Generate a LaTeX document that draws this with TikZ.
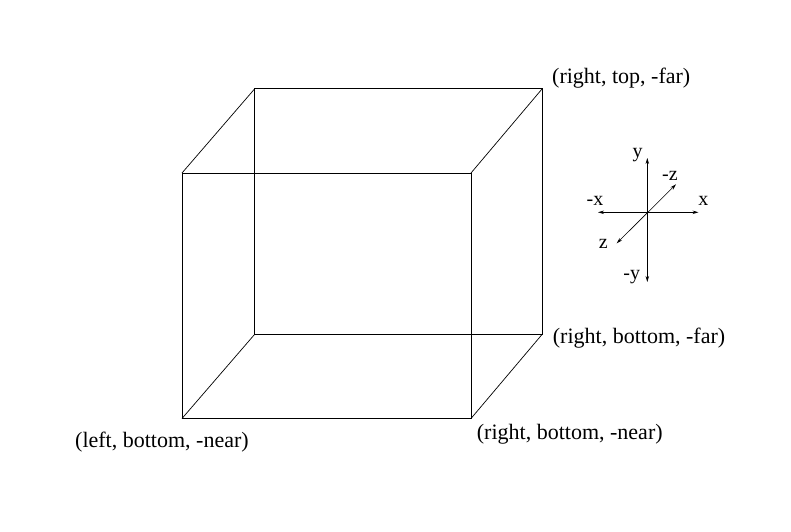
\documentclass[tikz,border=0pt]{standalone}
\usepackage{fontspec}
\setmainfont{Liberation Serif}
\usetikzlibrary{arrows.meta}
\begin{document}
\begin{tikzpicture}[x=1pt,y=1pt,
  edge/.style={line width=1pt},
  diag/.style={line width=0.7pt},
  axis/.style={line width=0.8pt,{Stealth[length=6pt,width=3.5pt]}-{Stealth[length=6pt,width=3.5pt]}},
  zaxis/.style={line width=0.6pt,{Stealth[length=6pt,width=3.5pt]}-{Stealth[length=6pt,width=3.5pt]}},
  big/.style={inner sep=0pt,font=\fontsize{22}{26}\selectfont},
  small/.style={inner sep=0pt,anchor=base,font=\fontsize{20}{24}\selectfont}]
\useasboundingbox (0,0) rectangle (791,531);
% cube corners
\coordinate (A) at (182,358);
\coordinate (B) at (471,358);
\coordinate (C) at (471,112.5);
\coordinate (D) at (182,112.5);
\coordinate (E) at (254.5,442);
\coordinate (F) at (542,442);
\coordinate (G) at (542,196.5);
\coordinate (H) at (254.5,196.5);
\draw[edge] (A) -- (B) -- (C) -- (D) -- cycle;
\draw[edge] (E) -- (F) -- (G) -- (H) -- cycle;
\draw[diag] (A) -- (E);
\draw[diag] (B) -- (F);
\draw[diag] (C) -- (G);
\draw[diag] (D) -- (H);
% labels
\node[big,anchor=base west] (lrtf) at (552,447.2) {(right, top, -far)};
\node[big,anchor=base west] (lrbf) at (552.7,187.6) {(right, bottom, -far)};
\node[big,anchor=base west] (lrbn) at (476.7,91.6) {(right, bottom, -near)};
\node[big,anchor=base west] (llbn) at (75,83.2) {(left, bottom, -near)};
% axes
\coordinate (yt) at (647.3,373);
\coordinate (yb) at (647.3,249);
\coordinate (xl) at (598,318.7);
\coordinate (xr) at (698.5,318.7);
\coordinate (zn) at (616.7,287.7);
\coordinate (zf) at (676,346.7);
\draw[axis] (yb) -- (yt);
\draw[axis] (xl) -- (xr);
\draw[zaxis] (zn) -- (zf);
\node[small] (ly) at (637.7,373.5) {y};
\node[small] (lmz) at (670,351) {-z};
\node[small] (lmx) at (595,326) {-x};
\node[small] (lx) at (703.3,325.3) {x};
\node[small] (lz) at (603.3,282.7) {z};
\node[small] (lmy) at (631.7,251.8) {-y};
\end{tikzpicture}
\end{document}
